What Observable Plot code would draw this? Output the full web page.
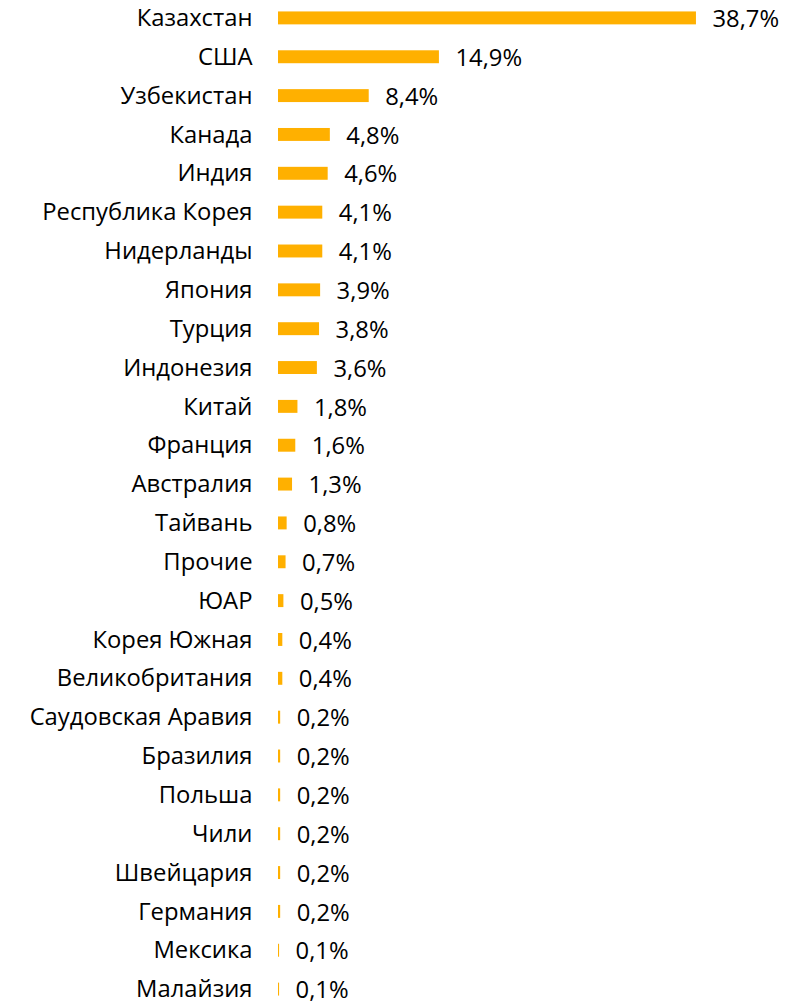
<!DOCTYPE html>
<html>
<head>
<meta charset="utf-8">
<script src="https://cdn.jsdelivr.net/npm/d3@7"></script>
<script src="https://cdn.jsdelivr.net/npm/@observablehq/plot@0.6"></script>
<style>
  html, body { margin: 0; padding: 0; background: #fff; }
  #chart svg { display: block; }
</style>
</head>
<body>
<div id="chart"></div>
<script>
const countries = ["Казахстан","США","Узбекистан","Канада","Индия","Республика Корея","Нидерланды","Япония","Турция","Индонезия","Китай","Франция","Австралия","Тайвань","Прочие","ЮАР","Корея Южная","Великобритания","Саудовская Аравия","Бразилия","Польша","Чили","Швейцария","Германия","Мексика","Малайзия"];
const shares = [38.7,14.9,8.4,4.8,4.6,4.1,4.1,3.9,3.8,3.6,1.8,1.6,1.3,0.8,0.7,0.5,0.4,0.4,0.2,0.2,0.2,0.2,0.2,0.2,0.1,0.1];

const data = countries.map((c, i) => ({country: c, value: shares[i]}));
const fmt = v => v.toFixed(1).replace(".", ",") + "%";

const chart = Plot.plot({
  width: 810,
  height: 1007,
  marginLeft: 278,
  marginRight: 0,
  marginTop: 0,
  marginBottom: 0,
  style: {fontFamily: "'Open Sans', sans-serif", fontSize: "24px", color: "#000", background: "#fff"},
  x: {domain: [0, 49.26], axis: null},
  y: {domain: countries, range: [-1.5, 1008.5], round: false, paddingInner: 0.667, paddingOuter: 0.333, label: null},
  marks: [
    Plot.axisY({tickSize: 0, tickPadding: 26, fontSize: 23.8, fill: "#000", label: null}),
    Plot.barX(data, {x: "value", y: "country", fill: "#FFB000"}),
    Plot.text(data, {x: "value", y: "country", text: d => fmt(d.value), textAnchor: "start", dx: 16, dy: 1, fontSize: 23.8, fill: "#000"})
  ]
});
document.getElementById("chart").appendChild(chart);
</script>
</body>
</html>
